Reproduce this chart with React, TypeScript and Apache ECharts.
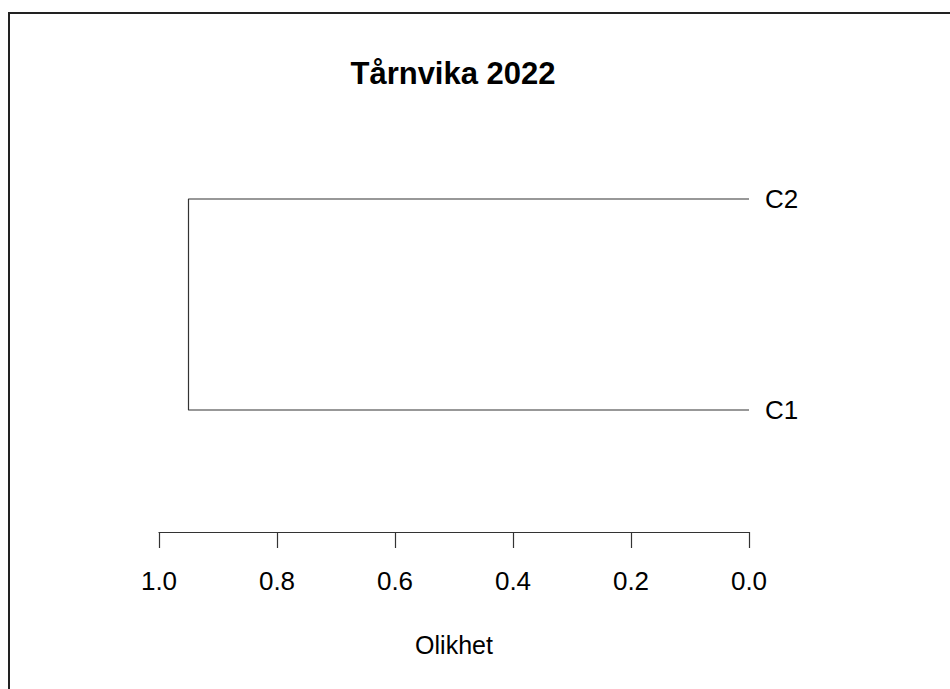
import React, { useEffect, useRef } from "react";
import * as echarts from "echarts";

const titleText = "Tårnvika 2022";
const axisName = "Olikhet";
const leaves = ["C1", "C2"];
const leafHeights = [0, 0];
const mergeHeight = [0.95];
const xTicks = [0, 0.2, 0.4, 0.6, 0.8, 1.0];

export default function App() {
  const ref = useRef<HTMLDivElement>(null);
  useEffect(() => {
    if (!ref.current) return;
    const chart = echarts.init(ref.current, undefined, { renderer: "svg" });
    const font = "'Liberation Sans', Arial, sans-serif";
    const h = mergeHeight[0];
    const dendro = [
      [leafHeights[1], 2],
      [h, 2],
      [h, 1],
      [leafHeights[0], 1],
    ];
    chart.setOption({
      animation: false,
      backgroundColor: "#ffffff",
      title: {
        text: titleText,
        left: 448,
        top: 53,
        textAlign: "center",
        textStyle: { fontFamily: font, fontSize: 31, fontWeight: "bold", color: "#000" },
      },
      grid: { left: 159, right: 950 - 749, top: 199, bottom: 689 - 410 },
      xAxis: {
        type: "value",
        inverse: true,
        min: xTicks[0],
        max: xTicks[xTicks.length - 1],
        interval: 0.2,
        offset: 122,
        name: axisName,
        nameLocation: "middle",
        nameGap: 100,
        nameTextStyle: { fontFamily: font, fontSize: 25, color: "#000" },
        axisLine: { show: true, lineStyle: { color: "#333", width: 1.2 } },
        axisTick: { show: true, length: 16, lineStyle: { color: "#333", width: 1.2 } },
        axisLabel: {
          margin: 36,
          fontFamily: font,
          fontSize: 26,
          color: "#000",
          formatter: (v: number) => v.toFixed(1),
        },
        splitLine: { show: false },
      },
      yAxis: {
        type: "value",
        min: 1,
        max: 2,
        interval: 1,
        position: "right",
        axisLine: { show: false },
        axisTick: { show: false },
        splitLine: { show: false },
        axisLabel: {
          margin: 16,
          fontFamily: font,
          fontSize: 26,
          color: "#000",
          padding: [4, 0, 0, 0],
          formatter: (v: number) => leaves[Math.round(v) - 1] ?? "",
        },
      },
      graphic: [
        {
          type: "rect",
          shape: { x: 9, y: 13, width: 1000, height: 1000 },
          style: { fill: "none", stroke: "#222", lineWidth: 2 },
          silent: true,
        },
      ],
      series: [
        {
          type: "line",
          data: dendro,
          symbol: "none",
          lineStyle: { color: "#333", width: 1.2 },
          clip: false,
        },
      ],
    });
    return () => chart.dispose();
  }, []);
  return <div ref={ref} style={{ position: "fixed", left: 0, top: 0, width: 950, height: 689 }} />;
}
